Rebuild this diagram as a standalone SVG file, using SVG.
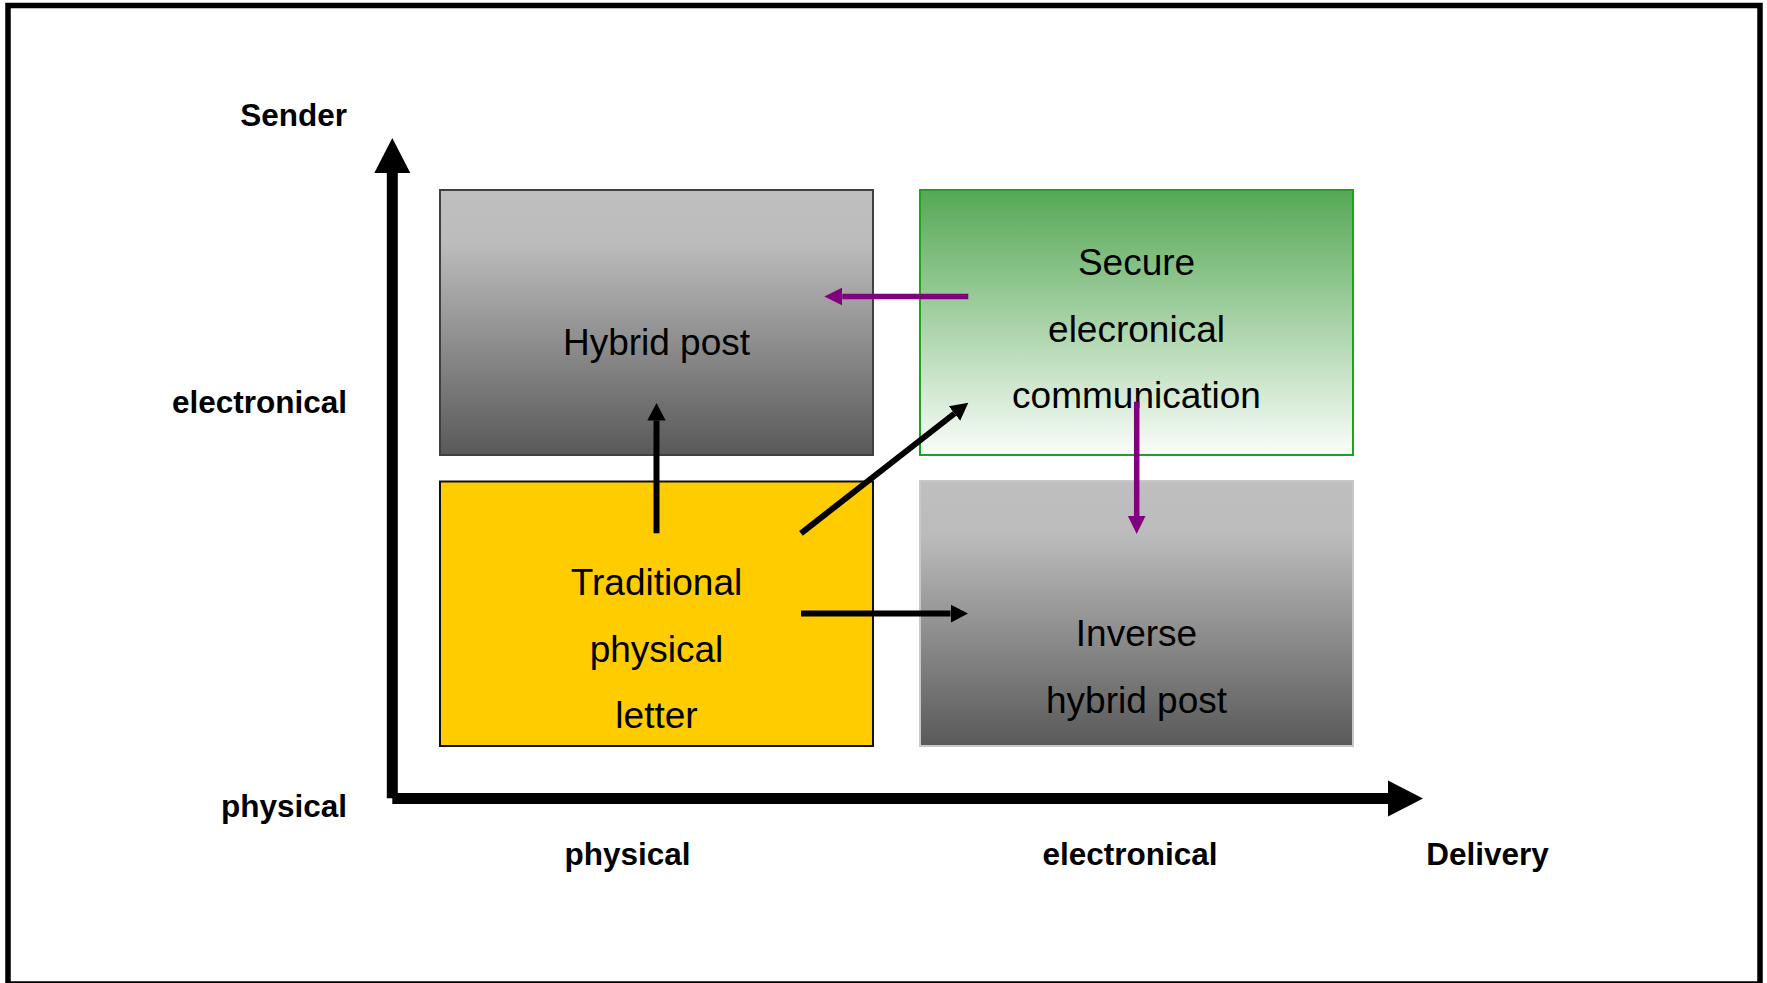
<svg xmlns="http://www.w3.org/2000/svg" width="1767" height="983" viewBox="0 0 1767 983">
<style>
.lbl{font-family:"Liberation Sans",Arial,sans-serif;font-weight:bold;font-size:31.5px;fill:#000}
.txt{font-family:"Liberation Sans",Arial,sans-serif;font-size:37px;fill:#000;text-anchor:middle}
.axis{stroke:#000;stroke-width:11;fill:none}
.blk{stroke:#000;stroke-width:6;fill:none}
.pur{stroke:#800080;stroke-width:5.5;fill:none}
</style>
<defs>
<linearGradient id="gray" x1="0" y1="0" x2="0" y2="1">
<stop offset="0" stop-color="#bfbfbf"/>
<stop offset="0.2" stop-color="#bcbcbc"/>
<stop offset="1" stop-color="#595959"/>
</linearGradient>
<linearGradient id="green" x1="0" y1="0" x2="0" y2="1">
<stop offset="0" stop-color="#55a855"/>
<stop offset="1" stop-color="#fafdfa"/>
</linearGradient>
<marker id="axh" markerUnits="userSpaceOnUse" viewBox="0 -20 40 40" markerWidth="40" markerHeight="40" refX="0" refY="0" orient="auto">
<path d="M0,-18 L35,0 L0,18 z" fill="#000"/>
</marker>
<marker id="bh" markerUnits="userSpaceOnUse" viewBox="0 -10 20 20" markerWidth="20" markerHeight="20" refX="0" refY="0" orient="auto">
<path d="M0,-9.2 L17.5,0 L0,9.2 z" fill="#000"/>
</marker>
<marker id="ph" markerUnits="userSpaceOnUse" viewBox="0 -10 20 20" markerWidth="20" markerHeight="20" refX="0" refY="0" orient="auto">
<path d="M0,-8.8 L18,0 L0,8.8 z" fill="#800080"/>
</marker>
</defs>
<rect x="0" y="0" width="1767" height="983" fill="#fff"/>
<rect x="8" y="5.5" width="1752" height="978.5" fill="none" stroke="#000" stroke-width="5.5"/>

<g id="axes">
<line class="axis" x1="392.3" y1="798.3" x2="392.3" y2="173" marker-end="url(#axh)"/>
<line class="axis" x1="392.3" y1="798.4" x2="1388" y2="798.4" marker-end="url(#axh)"/>
</g>

<g id="axis-labels">
<text class="lbl" x="347" y="126" text-anchor="end">Sender</text>
<text class="lbl" x="347" y="413.3" text-anchor="end">electronical</text>
<text class="lbl" x="347" y="816.7" text-anchor="end">physical</text>
<text class="lbl" x="627.5" y="865" text-anchor="middle">physical</text>
<text class="lbl" x="1130" y="865" text-anchor="middle">electronical</text>
<text class="lbl" x="1487.5" y="865" text-anchor="middle">Delivery</text>
</g>

<g id="hybrid-post">
<rect x="440" y="190" width="433" height="265" fill="url(#gray)" stroke="#404040" stroke-width="2"/>
<text class="txt" x="656.5" y="355">Hybrid post</text>
</g>

<g id="secure-electronic">
<rect x="920" y="190" width="433" height="265" fill="url(#green)" stroke="#22a022" stroke-width="2"/>
<text class="txt" x="1136.5" y="275">Secure</text>
<text class="txt" x="1136.5" y="341.7">elecronical</text>
<text class="txt" x="1136.5" y="408.3">communication</text>
</g>

<g id="traditional-letter">
<rect x="440" y="481.5" width="433" height="264.5" fill="#ffcc00" stroke="#111" stroke-width="2"/>
<text class="txt" x="656.5" y="595">Traditional</text>
<text class="txt" x="656.5" y="661.7">physical</text>
<text class="txt" x="656.5" y="728.3">letter</text>
</g>

<g id="inverse-hybrid-post">
<rect x="920" y="481" width="433" height="265" fill="url(#gray)" stroke="#c8c8c8" stroke-width="2"/>
<text class="txt" x="1136.5" y="646">Inverse</text>
<text class="txt" x="1136.5" y="712.7">hybrid post</text>
</g>

<g id="connectors">
<line class="blk" x1="656.5" y1="533.3" x2="656.5" y2="420.5" marker-end="url(#bh)"/>
<line class="blk" x1="801" y1="533.3" x2="954.5" y2="413.5" marker-end="url(#bh)"/>
<line class="blk" x1="801" y1="613.6" x2="950.5" y2="613.6" marker-end="url(#bh)"/>
<line class="pur" x1="968.3" y1="296.5" x2="842.3" y2="296.5" marker-end="url(#ph)"/>
<line class="pur" x1="1136.7" y1="401.7" x2="1136.7" y2="516" marker-end="url(#ph)"/>
</g>
</svg>
